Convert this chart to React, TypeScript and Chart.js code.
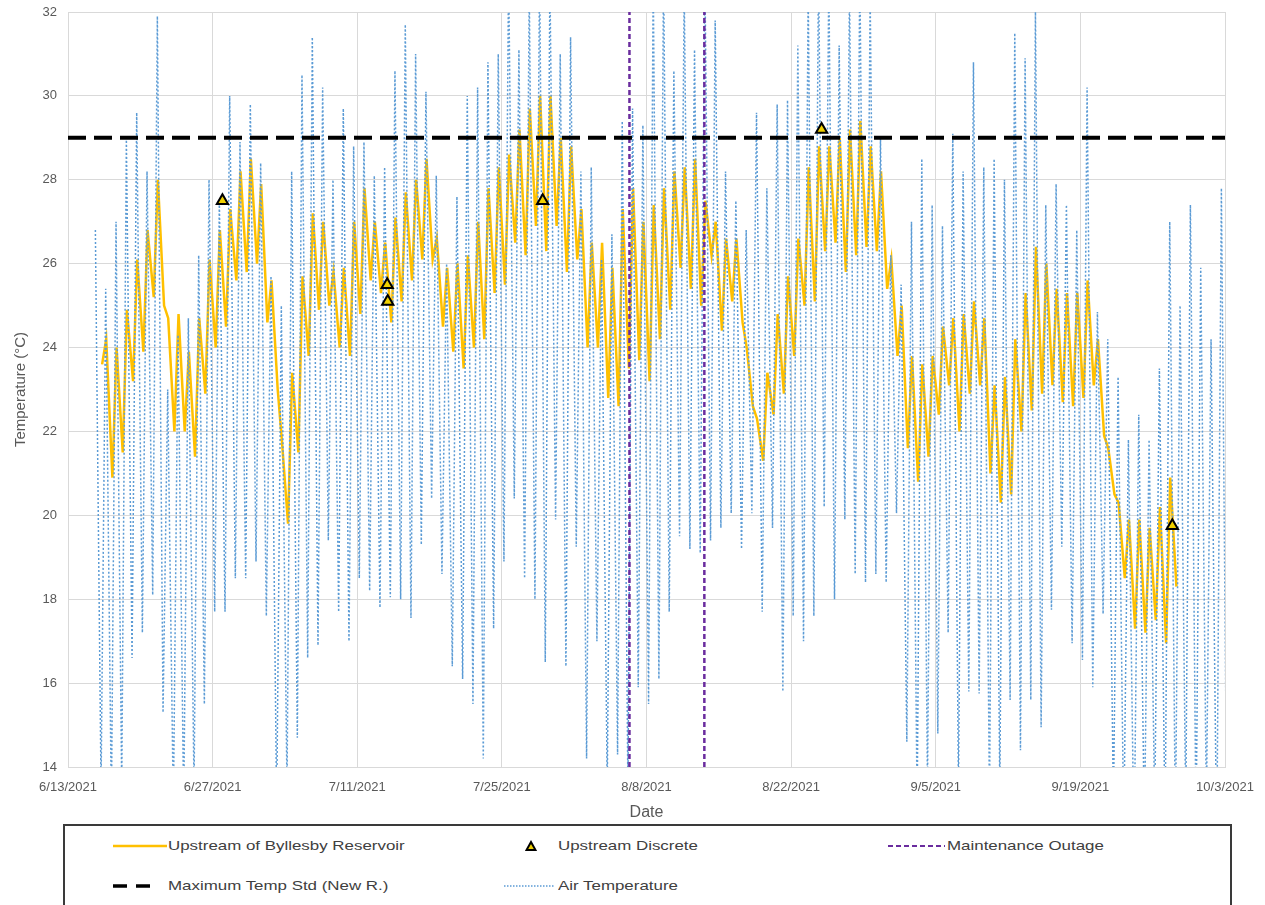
import { useEffect, useRef } from "react";
import { Chart, registerables } from "chart.js";

Chart.register(...registerables);

// ---- Axis setup (x is measured in days since 6/13/2021) ----
const START_DATE_UTC = Date.UTC(2021, 5, 13);
const X_MAX_DAYS = 112;
const X_TICK_STEP_DAYS = 14;
const Y_MIN = 14;
const Y_MAX = 32;
const Y_STEP = 2;

// ---- Upstream of Byllesby Reservoir: daily low (morning) and high (evening), °C ----
const WATER_FIRST_DAY = 3;
const waterDailyLow = [
  23.6, 20.9, 21.5, 23.2, 23.9, 25.2, 25.0, 22.0, 22.0, 21.4,
  22.9, 24.0, 24.5, 25.6, 25.8, 26.0, 24.6, 23.0, 19.8, 21.5,
  23.8, 24.9, 25.0, 24.0, 23.8, 24.8, 25.6, 25.3, 24.6, 25.1,
  25.6, 26.1, 26.1, 24.5, 23.9, 23.5, 24.0, 24.2, 25.3, 25.5,
  26.5, 26.2, 26.9, 26.3, 26.9, 25.8, 26.1, 24.0, 24.0, 22.8,
  22.6, 23.5, 23.7, 23.2, 24.2, 24.9, 25.9, 25.4, 25.0, 26.2,
  24.4, 25.1, 24.6, 22.6, 21.3, 22.4, 22.9, 23.8, 25.0, 25.1,
  26.3, 26.5, 25.8, 26.2, 26.4, 26.3, 25.4, 23.8, 21.6, 20.8,
  21.4, 22.4, 23.1, 22.0, 22.9, 23.1, 21.0, 20.3, 20.5, 22.0,
  22.5, 22.9, 23.1, 22.7, 22.6, 22.8, 23.1, 21.9, 20.5, 18.5,
  17.3, 17.2, 17.5, 16.95, 18.3,
];
const waterDailyHigh = [
  24.2, 24.0, 24.9, 26.1, 26.8, 28.0, 24.7, 24.8, 23.9, 24.7,
  26.1, 26.8, 27.3, 28.2, 28.5, 27.9, 25.6, 21.8, 23.4, 25.7,
  27.2, 27.0, 25.8, 25.9, 27.0, 27.8, 27.0, 26.5, 27.1, 27.7,
  28.0, 28.5, 26.6, 25.9, 26.0, 26.2, 27.0, 27.8, 28.3, 28.6,
  29.2, 29.7, 30.0, 30.0, 29.0, 28.8, 27.3, 26.5, 26.5, 25.9,
  27.3, 27.8, 27.0, 27.4, 27.8, 28.2, 28.3, 28.5, 27.5, 27.0,
  26.6, 26.6, 24.0, 22.3, 23.4, 24.8, 25.7, 26.6, 28.3, 28.8,
  28.8, 29.0, 29.2, 29.4, 28.8, 28.2, 26.1, 25.0, 23.8, 23.6,
  23.8, 24.5, 24.7, 24.8, 25.1, 24.7, 23.1, 23.3, 24.2, 25.3,
  26.4, 26.0, 25.4, 25.3, 25.3, 25.6, 24.2, 21.6, 20.3, 19.9,
  19.9, 19.7, 20.2, 20.9, null,
];

// ---- Air temperature: daily low (early morning) and high (afternoon), °C ----
const AIR_FIRST_DAY = 2;
const airDailyLow = [
  null, 13.5, 13.0, 13.5, 16.6, 17.2, 18.1, 15.3, 13.0, 13.0,
  13.5, 15.5, 17.7, 17.7, 18.5, 18.5, 18.9, 17.6, 13.0, 13.5,
  14.7, 16.6, 16.9, 19.4, 17.7, 17.0, 18.5, 18.2, 17.8, 18.05,
  18.0, 17.55, 19.3, 20.4, 18.6, 16.4, 16.1, 15.5, 14.2, 17.3,
  18.9, 20.4, 18.5, 18.0, 16.5, 19.9, 16.4, 19.25, 14.2, 17.0,
  13.5, 14.3, 13.5, 15.9, 15.5, 16.1, 17.7, 19.5, 19.2, 19.1,
  19.4, 19.7, 20.05, 19.2, 20.05, 17.7, 19.7, 15.8, 17.6, 17.0,
  17.6, 20.2, 18.0, 19.9, 18.6, 18.4, 18.6, 18.4, 20.05, 14.6,
  13.0, 13.5, 14.8, 17.2, 13.5, 15.8, 15.75, 13.2, 13.5, 15.6,
  14.4, 15.6, 14.95, 17.75, 19.25, 16.95, 16.55, 15.9, 17.65, 13.0,
  12.5, 12.0, 12.5, 13.0, 12.5, 12.5, 13.0, 12.5, 13.0, 12.0,
  12.0,
];
const airDailyHigh = [
  26.8, 25.4, 27.0, 29.0, 29.6, 28.2, 31.9, 23.0, 24.3, 24.7,
  26.2, 28.0, 27.5, 30.0, 28.9, 29.8, 28.4, 25.7, 25.0, 28.2,
  30.5, 31.4, 30.2, 28.0, 29.7, 28.8, 28.9, 28.1, 28.3, 30.6,
  31.7, 31.0, 30.1, 28.1, 26.0, 27.6, 30.0, 30.2, 30.8, 31.0,
  33.0, 31.1, 32.5, 33.0, 32.8, 31.0, 31.4, 28.2, 28.3, 26.1,
  26.7, 29.4, 29.7, 29.3, 32.8, 33.0, 30.6, 32.5, 31.1, 33.0,
  31.8, 28.2, 27.5, 26.8, 29.6, 27.8, 29.8, 29.9, 31.2, 32.5,
  33.0, 32.8, 31.2, 32.5, 33.0, 32.4, 29.0, 26.2, 25.5, 27.0,
  28.5, 27.4, 26.9, 29.1, 28.2, 30.8, 28.3, 28.5, 28.0, 31.5,
  30.9, 32.0, 27.4, 27.9, 27.4, 26.8, 30.2, 24.85, 24.2, 23.3,
  21.8, 22.4, 21.8, 23.5, 27.0, 25.0, 27.4, 25.9, 24.2, 27.8,
  null,
];

// ---- Upstream discrete samples ----
const discreteDays = [14.95, 30.9, 30.95, 45.95, 72.95, 106.9];
const discreteTemps = [27.5, 25.5, 25.1, 27.5, 29.2, 19.75];

// ---- Reference lines ----
const maxTempStd = 29;
const outageStartDay = 54.35;
const outageEndDay = 61.6;

const FONT = "'Liberation Sans', Arial, sans-serif";

type Pt = { x: number; y: number };

function dailySeries(
  firstDay: number,
  lows: (number | null)[],
  highs: (number | null)[],
  lowAt: number,
  highAt: number
): Pt[] {
  const pts: Pt[] = [];
  for (let i = 0; i < lows.length; i++) {
    const day = firstDay + i;
    const lo = lows[i];
    const hi = highs[i];
    if (lo != null) pts.push({ x: day + lowAt, y: lo });
    if (hi != null) pts.push({ x: day + highAt, y: hi });
  }
  return pts;
}

function dayLabel(v: number): string {
  const d = new Date(START_DATE_UTC + v * 86400000);
  return `${d.getUTCMonth() + 1}/${d.getUTCDate()}/${d.getUTCFullYear()}`;
}

const legendText: React.CSSProperties = {
  position: "absolute",
  font: `13px ${FONT}`,
  color: "#404040",
  lineHeight: "14px",
  whiteSpace: "nowrap",
  transform: "scaleX(1.3)",
  transformOrigin: "left center",
};

function Legend() {
  const row1 = 846;
  const row2 = 886;
  return (
    <>
      <div
        style={{
          position: "absolute",
          left: 63,
          top: 824,
          width: 1169,
          height: 90,
          border: "2px solid #3a3a3a",
          boxSizing: "border-box",
          background: "#fff",
        }}
      />
      {/* row 1 */}
      <svg style={{ position: "absolute", left: 113, top: row1 - 5 }} width={54} height={10}>
        <line x1={0} y1={5} x2={54} y2={5} stroke="#FFC000" strokeWidth={2.5} />
      </svg>
      <span style={{ ...legendText, left: 168, top: row1 - 7 }}>Upstream of Byllesby Reservoir</span>
      <svg style={{ position: "absolute", left: 525, top: row1 - 6 }} width={12} height={12}>
        <polygon points="6,2 10.5,10 1.5,10" fill="#F0D000" stroke="#000" strokeWidth={2} />
      </svg>
      <span style={{ ...legendText, left: 558, top: row1 - 7 }}>Upstream Discrete</span>
      <svg style={{ position: "absolute", left: 888, top: row1 - 5 }} width={57} height={10}>
        <line x1={0} y1={5} x2={57} y2={5} stroke="#6A2C9E" strokeWidth={2} strokeDasharray="5 3" />
      </svg>
      <span style={{ ...legendText, left: 947, top: row1 - 7 }}>Maintenance Outage</span>
      {/* row 2 */}
      <svg style={{ position: "absolute", left: 113, top: row2 - 5 }} width={38} height={10}>
        <line x1={0} y1={5} x2={38} y2={5} stroke="#000" strokeWidth={3.5} strokeDasharray="14 9" />
      </svg>
      <span style={{ ...legendText, left: 168, top: row2 - 7 }}>Maximum Temp Std (New R.)</span>
      <svg style={{ position: "absolute", left: 504, top: row2 - 5 }} width={51} height={10}>
        <line x1={0} y1={5} x2={51} y2={5} stroke="#5B9BD5" strokeWidth={1.5} strokeDasharray="1.5 1.5" />
      </svg>
      <span style={{ ...legendText, left: 558, top: row2 - 7 }}>Air Temperature</span>
    </>
  );
}

export default function App() {
  const canvasRef = useRef<HTMLCanvasElement | null>(null);

  useEffect(() => {
    const canvas = canvasRef.current;
    if (!canvas) return;

    const water = dailySeries(WATER_FIRST_DAY, waterDailyLow, waterDailyHigh, 0.3, 0.7);
    const air = dailySeries(AIR_FIRST_DAY, airDailyLow, airDailyHigh, 0.2, 0.65);
    const discrete = discreteDays.map((d, i) => ({ x: d, y: discreteTemps[i] }));

    const chart = new Chart(canvas, {
      type: "line",
      data: {
        datasets: [
          {
            label: "Upstream Discrete",
            data: discrete,
            showLine: false,
            pointStyle: "triangle",
            pointRadius: 6.5,
            pointBackgroundColor: "#F0D000",
            pointBorderColor: "#000",
            pointBorderWidth: 2,
            order: 0,
          },
          {
            label: "Maximum Temp Std (New R.)",
            data: [
              { x: 0, y: maxTempStd },
              { x: X_MAX_DAYS, y: maxTempStd },
            ],
            borderColor: "#000",
            borderWidth: 4,
            borderDash: [18, 8],
            pointRadius: 0,
            order: 1,
          },
          {
            label: "Maintenance Outage",
            data: [
              { x: outageStartDay, y: Y_MIN },
              { x: outageStartDay, y: Y_MAX },
            ],
            borderColor: "#6A2C9E",
            borderWidth: 2.5,
            borderDash: [5, 3],
            pointRadius: 0,
            order: 1,
          },
          {
            label: "Maintenance Outage (end)",
            data: [
              { x: outageEndDay, y: Y_MIN },
              { x: outageEndDay, y: Y_MAX },
            ],
            borderColor: "#6A2C9E",
            borderWidth: 2.5,
            borderDash: [5, 3],
            pointRadius: 0,
            order: 1,
          },
          {
            label: "Air Temperature",
            data: air,
            borderColor: "#5B9BD5",
            borderWidth: 1.5,
            borderDash: [2, 2],
            pointRadius: 0,
            order: 2,
          },
          {
            label: "Upstream of Byllesby Reservoir",
            data: water,
            borderColor: "#FFC000",
            borderWidth: 2.5,
            pointRadius: 0,
            order: 3,
          },
        ],
      },
      options: {
        animation: false,
        responsive: false,
        maintainAspectRatio: false,
        layout: { padding: { left: 0, top: 12, right: 40, bottom: 0 } },
        plugins: {
          legend: { display: false },
          tooltip: { enabled: false },
        },
        elements: { line: { tension: 0 } },
        scales: {
          x: {
            type: "linear",
            min: 0,
            max: X_MAX_DAYS,
            afterFit: (s: any) => {
              s.height = 55;
              s.paddingLeft = 0;
              s.paddingRight = 0;
            },
            ticks: {
              stepSize: X_TICK_STEP_DAYS,
              autoSkip: false,
              maxRotation: 0,
              padding: 13,
              color: "#595959",
              font: { family: FONT, size: 13 },
              callback: (v: any) => dayLabel(Number(v)),
            },
            grid: { color: "#D9D9D9", drawTicks: false },
            border: { color: "#D9D9D9" },
            title: {
              display: true,
              text: "Date",
              color: "#595959",
              font: { family: FONT, size: 16 },
              padding: { top: 0, bottom: 0 },
            },
          },
          y: {
            min: Y_MIN,
            max: Y_MAX,
            afterFit: (s: any) => {
              s.width = 68;
              s.paddingTop = 0;
              s.paddingBottom = 0;
            },
            ticks: {
              stepSize: Y_STEP,
              padding: 11,
              color: "#595959",
              font: { family: FONT, size: 13 },
            },
            grid: { color: "#D9D9D9", drawTicks: false },
            border: { color: "#D9D9D9" },
            title: {
              display: true,
              text: "Temperature (°C)",
              color: "#595959",
              font: { family: FONT, size: 15 },
              padding: { top: 12, bottom: 0 },
            },
          },
        },
      },
    });

    return () => chart.destroy();
  }, []);

  return (
    <div
      style={{
        position: "absolute",
        left: 0,
        top: 0,
        width: 1265,
        height: 905,
        overflow: "hidden",
        background: "#fff",
      }}
    >
      <canvas ref={canvasRef} width={1265} height={822} style={{ width: 1265, height: 822, display: "block" }} />
      <Legend />
    </div>
  );
}
